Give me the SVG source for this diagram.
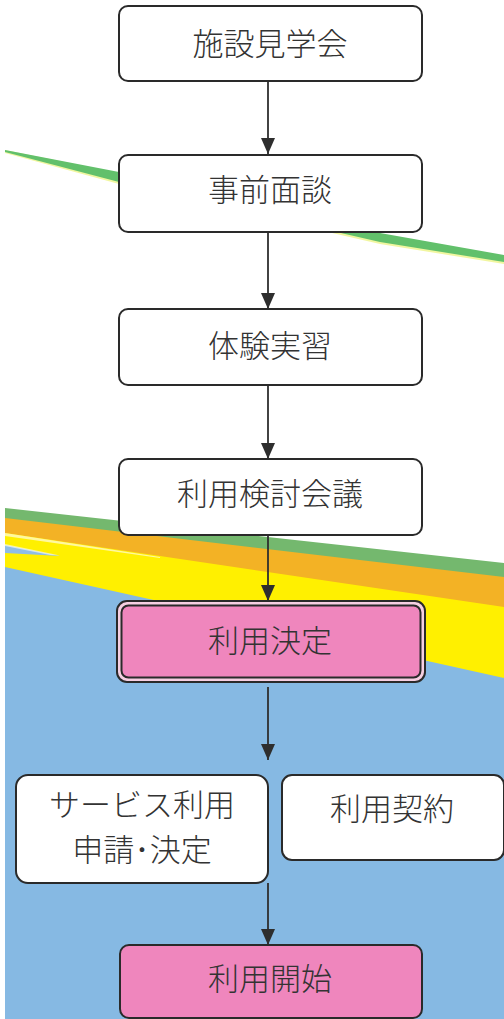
<svg xmlns="http://www.w3.org/2000/svg" width="504" height="1019" viewBox="0 0 504 1019">
<style>
.box{fill:#ffffff;stroke:#2a2a2a;stroke-width:2}
.pink{fill:#ef86bd;stroke:#2a2a2a;stroke-width:2}
.lbl{font-family:"Noto Sans CJK JP","Noto Sans",sans-serif;font-size:31px;font-weight:300;fill:#333333;text-anchor:middle}
.conn{stroke:#2e2e2e;stroke-width:1.8;fill:none}
</style>
<defs>
<marker id="ah" viewBox="0 0 16 14" refX="16" refY="7" markerWidth="16" markerHeight="14" markerUnits="userSpaceOnUse" orient="auto">
<path d="M0,0 L16,7 L0,14 Z" fill="#2e2e2e"/>
</marker>
</defs>
<rect width="504" height="1019" fill="#ffffff"/>
<g id="background">
<polygon points="5,150 119,173 380,234 504,256 504,264 380,244 119,184 5,153" fill="#e8f060" opacity="0.6"/>
<polygon points="5,150 119,172 380,233 504,255 504,262 380,242 119,182 5,152" fill="#62c06b"/>
<polygon points="5,508 504,563 504,1019 5,1019" fill="#74b86e"/>
<polygon points="5,518 504,577 504,1019 5,1019" fill="#f3b225"/>
<polygon points="5,533 504,607 504,1019 5,1019" fill="#fff000"/>
<polygon points="5,533 160,557 160,558 5,536" fill="#fff8a0"/>
<polygon points="5,545 60,556 5,553" fill="#8fbde6"/>
<polygon points="5,544 60,555.5 50,555 5,546" fill="#ffffff" opacity="0.6"/>
<polygon points="5,567 504,678 504,1019 5,1019" fill="#86b9e3"/>
</g>
<g id="connectors">
<line class="conn" x1="268" y1="81" x2="268" y2="154" marker-end="url(#ah)"/>
<line class="conn" x1="268" y1="232" x2="268" y2="309" marker-end="url(#ah)"/>
<line class="conn" x1="268" y1="385" x2="268" y2="459" marker-end="url(#ah)"/>
<line class="conn" x1="268" y1="535" x2="268" y2="601" marker-end="url(#ah)"/>
<line class="conn" x1="268" y1="687" x2="268" y2="760" marker-end="url(#ah)"/>
<line class="conn" x1="268" y1="883" x2="268" y2="945" marker-end="url(#ah)"/>
</g>
<g id="node-kengaku">
<rect class="box" x="119" y="6" width="303" height="75" rx="9"/>
<text class="lbl" x="270" y="55">施設見学会</text>
</g>
<g id="node-mendan">
<rect class="box" x="119" y="155" width="303" height="77" rx="9"/>
<text class="lbl" x="270" y="201">事前面談</text>
</g>
<g id="node-jisshu">
<rect class="box" x="119" y="309" width="303" height="76" rx="9"/>
<text class="lbl" x="270" y="357">体験実習</text>
</g>
<g id="node-kaigi">
<rect class="box" x="119" y="459" width="303" height="76" rx="9"/>
<text class="lbl" x="270" y="505">利用検討会議</text>
</g>
<g id="node-kettei">
<rect x="117" y="601" width="308" height="81" rx="10" fill="#f6cfe2" stroke="#2a2a2a" stroke-width="2"/>
<rect class="pink" x="121.5" y="605.5" width="299" height="72" rx="7" stroke-width="1.6"/>
<text class="lbl" x="270" y="652">利用決定</text>
</g>
<g id="node-shinsei">
<rect class="box" x="16" y="775" width="252" height="108" rx="12"/>
<text class="lbl" x="142" y="816">サービス利用</text>
<text class="lbl" x="142" y="861">申請･決定</text>
</g>
<g id="node-keiyaku">
<rect class="box" x="282" y="775" width="222" height="85" rx="10"/>
<text class="lbl" x="392" y="820">利用契約</text>
</g>
<g id="node-kaishi">
<rect class="pink" x="120" y="945" width="302" height="73" rx="9"/>
<text class="lbl" x="270" y="990">利用開始</text>
</g>
</svg>
